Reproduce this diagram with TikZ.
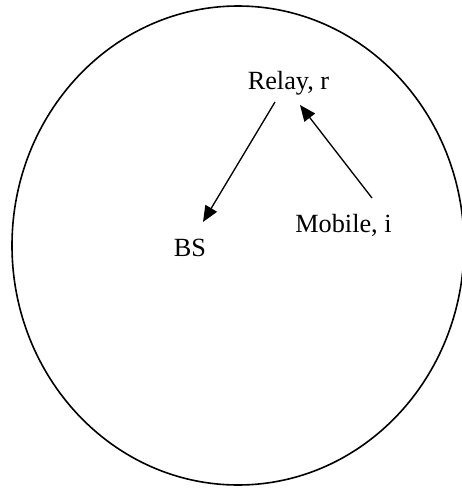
\documentclass[tikz,border=0pt]{standalone}
\usepackage{fontspec}
\setmainfont{Liberation Serif}
\usetikzlibrary{arrows.meta}

\begin{document}
\begin{tikzpicture}[x=0.75pt,y=-0.75pt,>={Triangle[length=12pt,width=10pt]},
  lbl/.style={anchor=base,inner sep=0pt,font=\fontsize{19.7}{23}\selectfont}]
  \useasboundingbox (0,0) rectangle (461,489);
  \draw[line width=1.2pt] (238,245.5) ellipse (226 and 239.5);
  \node[lbl] (relay) at (288.5,89) {Relay, r};
  \node[lbl] (mobile) at (343.5,232.7) {Mobile, i};
  \node[lbl] (bs) at (190,256.7) {BS};
  \draw[->,line width=1pt] ([shift={(-13.5,13)}]relay.base) -- ([shift={(13,-34.7)}]bs.base);
  \draw[->,line width=1pt] ([shift={(28.5,-34.7)}]mobile.base) -- ([shift={(11.5,16)}]relay.base);
\end{tikzpicture}
\end{document}
